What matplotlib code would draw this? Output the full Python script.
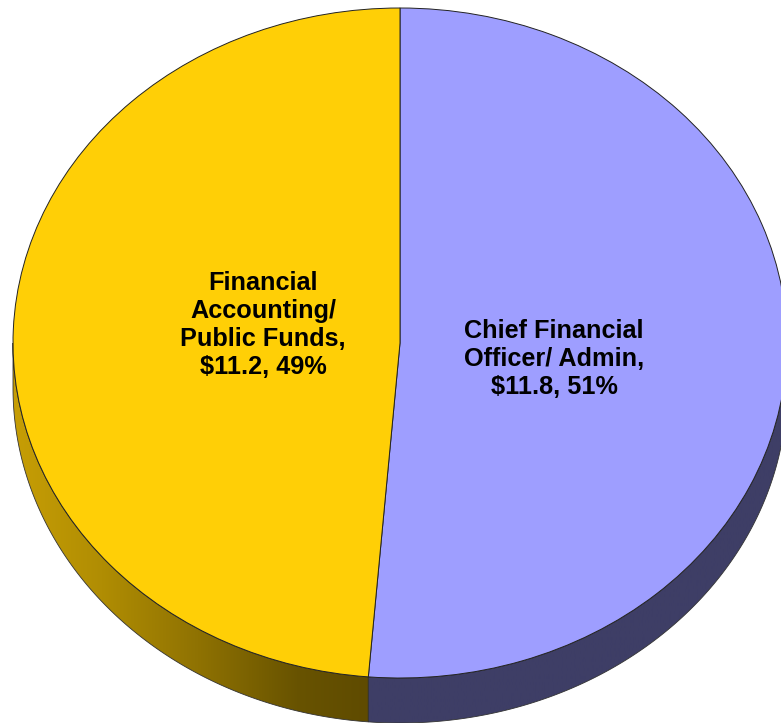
import numpy as np
import matplotlib
matplotlib.use("Agg")
import matplotlib.pyplot as plt
from matplotlib.path import Path
from matplotlib.patches import PathPatch
from matplotlib.colors import LinearSegmentedColormap

categories = ["Chief Financial\nOfficer/ Admin,", "Financial\nAccounting/\nPublic Funds,"]
values = [11.8, 11.2]
shares = ["51%", "49%"]
top_colors = ["#9E9EFF", "#FFCF06"]

W, H = 781, 723
cx, cy, rx, ry, depth = 400, 343, 387, 335, 45

fig = plt.figure(figsize=(W / 100, H / 100), dpi=100)
ax = fig.add_axes([0, 0, 1, 1])

# Elliptical pie: unit circle stretched by independent axis limits
ax.set_xlim((0 - cx) / rx, (W - cx) / rx)
ax.set_ylim((cy - H) / ry, cy / ry)
ax.set_aspect("auto")
ax.axis("off")
d = depth / ry

fractions = np.array(values) / sum(values)
split = 450 - 360 * fractions[0]          # boundary on the front rim, degrees


def wall_path(a0, a1):
    t = np.radians(np.linspace(a0, a1, 300))
    x, y = np.cos(t), np.sin(t)
    verts = np.r_[np.c_[x, y], np.c_[x, y - d][::-1], [[x[0], y[0]]]]
    codes = [Path.MOVETO] + [Path.LINETO] * (len(verts) - 2) + [Path.CLOSEPOLY]
    return Path(verts, codes)


walls = [
    (split, 360, LinearSegmentedColormap.from_list("b", ["#3E3E66", "#3E3E66"])),
    (180, split, LinearSegmentedColormap.from_list(
        "y", [(0, "#C79E05"), (0.25, "#B08D03"), (0.52, "#8F7202"), (0.8, "#685300"), (1, "#5F4B00")])),
]
x_left, x_right = ax.get_xlim()
y_lo, y_hi = ax.get_ylim()
grad = np.linspace(0, 1, 512).reshape(1, -1)
for a0, a1, cmap in walls:
    p = wall_path(a0, a1)
    t = np.cos(np.radians([a0, a1]))
    im = ax.imshow(grad, extent=[t.min(), t.max(), y_lo, y_hi], cmap=cmap,
                   aspect="auto", zorder=1, interpolation="bilinear")
    patch = PathPatch(p, transform=ax.transData, facecolor="none",
                      edgecolor="#333333", linewidth=0.6, zorder=2)
    ax.add_patch(patch)
    im.set_clip_path(patch)

wedges, _ = ax.pie(values, colors=top_colors, startangle=90, counterclock=False,
                   radius=1, frame=True,
                   wedgeprops=dict(edgecolor="#222222", linewidth=0.7, zorder=3))
ax.set_xlim(x_left, x_right)
ax.set_ylim(y_lo, y_hi)
ax.set_aspect("auto")
ax.axis("off")

font = dict(family="Liberation Sans", fontweight="bold", fontsize=18.2, color="black",
            ha="center", va="center", linespacing=1.2, zorder=5)
label_pos = [(554, 359), (263, 325)]
for cat, val, share, (px, py) in zip(categories, values, shares, label_pos):
    ax.text((px - cx) / rx, (cy - py) / ry, f"{cat}\n${val}, {share}", **font)

fig.savefig("out.png", dpi=100)
